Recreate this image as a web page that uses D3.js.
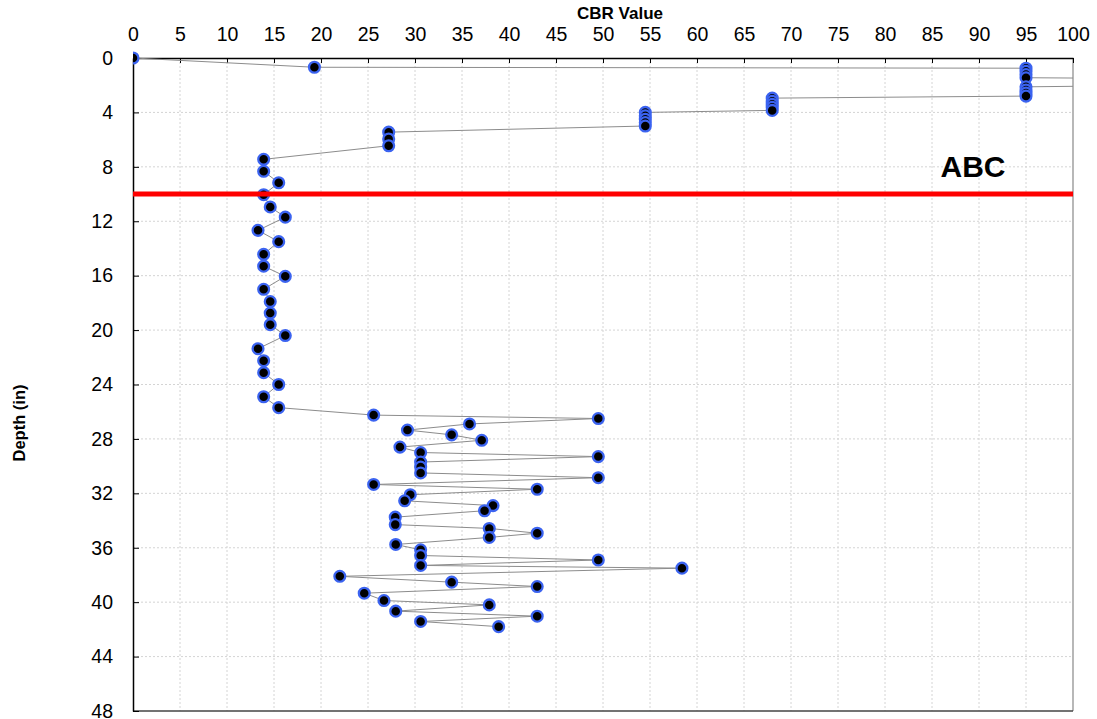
<!DOCTYPE html>
<html>
<head>
<meta charset="utf-8">
<script src="https://cdn.jsdelivr.net/npm/d3@7"></script>
<style>
  body { margin: 0; background: #fff; }
  text { font-family: "Liberation Sans", Arial, sans-serif; }
</style>
</head>
<body>
<svg width="1097" height="719"></svg>
<script>
// CBR value vs depth
const cbr = [
  0, 19.3,
  95, 95, 95, 95, 150, 95, 95, 95, 95,
  68, 68, 68, 68, 68,
  54.5, 54.5, 54.5, 54.5, 54.5,
  27.2, 27.2, 27.2,
  13.9, 13.9, 15.5, 13.9, 14.6, 16.2, 13.3, 15.5, 13.9, 13.9, 16.2, 13.9,
  14.6, 14.6, 14.6, 16.2, 13.3, 13.9, 13.9, 15.5, 13.9, 15.5,
  25.6, 49.5, 35.8, 29.2, 33.9, 37.1, 28.4, 30.6, 49.5, 30.6, 30.6, 30.6, 49.5,
  25.6, 43.0, 29.5, 28.9, 38.3, 37.4, 27.9, 27.9, 37.9, 43.0, 37.9, 27.95,
  30.6, 30.6, 49.5, 30.6, 58.4, 22.0, 33.9, 43.0, 24.6, 26.7, 37.9, 27.95, 43.0, 30.6, 38.9
]
const depth = [
  0, 0.68,
  0.75, 0.98, 1.22, 1.45, 1.7, 2.12, 2.35, 2.58, 2.8,
  2.95, 3.18, 3.4, 3.62, 3.85,
  4.0, 4.25, 4.5, 4.75, 5.0,
  5.45, 5.95, 6.45,
  7.45, 8.33, 9.17, 10.05, 10.95, 11.7, 12.67, 13.5, 14.43, 15.3, 16.05, 17.0,
  17.9, 18.75, 19.6, 20.4, 21.37, 22.25, 23.13, 24.0, 24.9, 25.7,
  26.25, 26.5, 26.9, 27.35, 27.7, 28.1, 28.6, 29.0, 29.3, 29.7, 30.07, 30.5, 30.85,
  31.35, 31.7, 32.1, 32.55, 32.9, 33.28, 33.75, 34.3, 34.58, 34.93, 35.24, 35.76,
  36.15, 36.57, 36.9, 37.3, 37.5, 38.1, 38.53, 38.85, 39.34, 39.88, 40.2, 40.66, 41.03, 41.42, 41.8
]
const xTicks = d3.range(0, 101, 5)
const yTicks = d3.range(0, 49, 4)
const markerDepth = 10
const markerLabel = "ABC"

const points = cbr.map((v, i) => ({ x: v, y: depth[i] }))

const svg = d3.select("svg")
const pl = 133, pr = 1073, pt = 58, pb = 711

const x = d3.scaleLinear().domain([0, 100]).range([pl, pr])
const y = d3.scaleLinear().domain([0, 48]).range([pt, pb])

// grid
svg.append("g")
  .selectAll("line")
  .data(xTicks.slice(1, -1))
  .enter().append("line")
  .attr("x1", d => x(d)).attr("x2", d => x(d))
  .attr("y1", pt).attr("y2", pb)
  .attr("stroke", "#d4d4d4").attr("stroke-dasharray", "2,2")

svg.append("g")
  .selectAll("line")
  .data(yTicks.slice(1, -1))
  .enter().append("line")
  .attr("x1", pl).attr("x2", pr)
  .attr("y1", d => y(d)).attr("y2", d => y(d))
  .attr("stroke", "#d4d4d4").attr("stroke-dasharray", "2,2")

// frame, right/bottom
svg.append("line").attr("x1", pr).attr("x2", pr).attr("y1", pt).attr("y2", pb)
  .attr("stroke", "#888").attr("stroke-width", 1.2)
svg.append("line").attr("x1", pl).attr("x2", pr).attr("y1", pb).attr("y2", pb)
  .attr("stroke", "#444").attr("stroke-width", 1.5)

// axes (ticks point into plot)
const xAxis = svg.append("g")
  .attr("transform", `translate(0,${pt})`)
  .call(d3.axisTop(x).tickValues(xTicks).tickSizeInner(-5).tickSizeOuter(0).tickPadding(17))
xAxis.select(".domain").attr("stroke", "#000").attr("stroke-width", 1.5)
xAxis.selectAll("text").attr("font-size", 19.5).attr("fill", "#000")
  .attr("font-family", "Liberation Sans, Arial, sans-serif")

const yAxis = svg.append("g")
  .attr("transform", `translate(${pl},0)`)
  .call(d3.axisLeft(y).tickValues(yTicks).tickSizeInner(-6).tickSizeOuter(0).tickPadding(20))
yAxis.select(".domain").attr("stroke", "#000").attr("stroke-width", 1.5)
yAxis.selectAll("text").attr("font-size", 19.5).attr("fill", "#000")
  .attr("font-family", "Liberation Sans, Arial, sans-serif")

// titles
svg.append("text")
  .attr("x", 620).attr("y", 19)
  .attr("text-anchor", "middle")
  .attr("font-size", 17).attr("font-weight", "bold")
  .text("CBR Value")

svg.append("text")
  .attr("transform", "translate(25,423) rotate(-90)")
  .attr("text-anchor", "middle")
  .attr("font-size", 16.5).attr("font-weight", "bold")
  .text("Depth (in)")

// data series, clipped to plot
svg.append("clipPath").attr("id", "plot")
  .append("rect").attr("x", pl).attr("y", pt - 8)
  .attr("width", pr - pl).attr("height", pb - pt + 16)

const series = svg.append("g").attr("clip-path", "url(#plot)")

series.append("path")
  .datum(points)
  .attr("fill", "none")
  .attr("stroke", "#8c8c8c")
  .attr("stroke-width", 1)
  .attr("d", d3.line().x(d => x(d.x)).y(d => y(d.y)))

series.selectAll("circle")
  .data(points)
  .enter().append("circle")
  .attr("cx", d => x(d.x))
  .attr("cy", d => y(d.y))
  .attr("r", 5.4)
  .attr("fill", "#000")
  .attr("stroke", "#3b63f0")
  .attr("stroke-width", 2.3)

// marker line
svg.append("line")
  .attr("x1", pl).attr("x2", pr)
  .attr("y1", y(markerDepth)).attr("y2", y(markerDepth))
  .attr("stroke", "#ff0000").attr("stroke-width", 5)

svg.append("text")
  .attr("x", 973).attr("y", 177)
  .attr("text-anchor", "middle")
  .attr("font-family", "Lato, 'Open Sans', sans-serif")
  .attr("font-size", 30).attr("font-weight", "bold")
  .text(markerLabel)
</script>
</body>
</html>
